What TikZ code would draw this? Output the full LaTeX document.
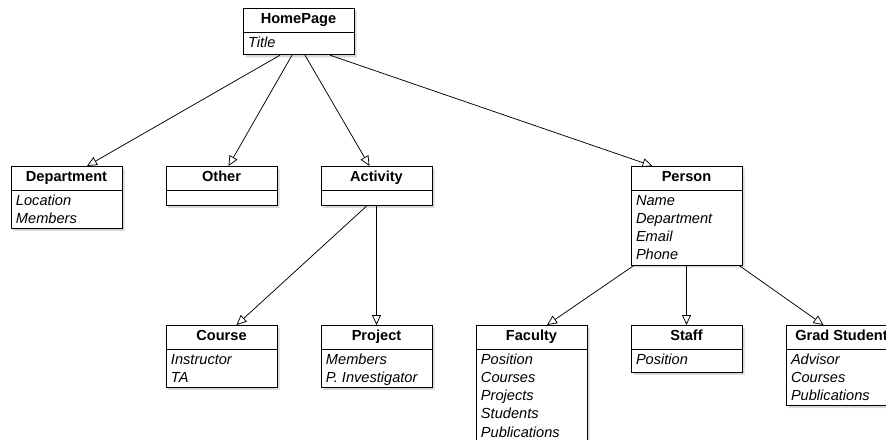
\documentclass[tikz,border=0pt]{standalone}
\usepackage{fontspec}
\setmainfont{Liberation Sans}
\usetikzlibrary{arrows.meta,positioning,shapes.multipart,shadows,matrix}

\newcommand{\classname}[1]{\rule[-8pt]{0pt}{22.5pt}\textbf{#1}}
\newcommand{\classattr}[1]{\rule[-4.3pt]{0pt}{18.3pt}\textit{#1}}
\newcommand{\classend}{\rule[-7pt]{0pt}{0pt}}

\begin{document}
\begin{tikzpicture}[x=1pt,y=-1pt,
  classbox/.style={rectangle split, rectangle split parts=2, rectangle split part align={center,left},
    rectangle split ignore empty parts=false, draw, line width=0.9pt, fill=white,
    minimum width=111pt, inner xsep=5pt, inner ysep=0.25pt, align=left,
    font=\fontsize{14.6}{18.3}\selectfont, anchor=north,
    drop shadow={shadow xshift=2.5pt, shadow yshift=-2.5pt, fill=black!30}},
  edge/.style={-{Triangle[open,length=10pt,width=9pt]}, line width=0.75pt}]
\useasboundingbox (0,0) rectangle (886,439);
\clip (0,0) rectangle (886,439);

\node (home)[classbox] at (298.5,8) {\classname{HomePage}\nodepart{two}\classattr{Title}\classend};

\matrix (classes)[anchor=dept.north, column sep={155pt,between origins}, row sep={159pt,between origins}] at (66.5,166)
{
\node(dept)[classbox]{\classname{Department}\nodepart{two}\classattr{Location}\\\classattr{Members}};  \pgfmatrixnextcell \node(other)[classbox]{\classname{Other}\nodepart{two}\rule{0pt}{13.5pt}};  \pgfmatrixnextcell \node(activity)[classbox]{\classname{Activity}\nodepart{two}\rule{0pt}{13.5pt}};  \pgfmatrixnextcell  \pgfmatrixnextcell \node(person)[classbox]{\classname{Person}\nodepart{two}\classattr{Name}\\\classattr{Department}\\\classattr{Email}\\\classattr{Phone}};  \pgfmatrixnextcell \\
 \pgfmatrixnextcell \node(course)[classbox]{\classname{Course}\nodepart{two}\classattr{Instructor}\\\classattr{TA}};  \pgfmatrixnextcell \node(project)[classbox]{\classname{Project}\nodepart{two}\classattr{Members}\\\classattr{P. Investigator}};  \pgfmatrixnextcell \node(faculty)[classbox]{\classname{Faculty}\nodepart{two}\classattr{Position}\\\classattr{Courses}\\\classattr{Projects}\\\classattr{Students}\\\classattr{Publications}};  \pgfmatrixnextcell \node(staff)[classbox]{\classname{Staff}\nodepart{two}\classattr{Position}\rule[-7.5pt]{0pt}{0pt}};  \pgfmatrixnextcell \node(grad)[classbox]{\classname{Grad Student}\nodepart{two}\classattr{Advisor}\\\classattr{Courses}\\\classattr{Publications}};\\
};

\draw [edge] ([xshift=-18.5pt]home.south) to ([xshift=20.5pt]dept.north);
\draw [edge] ([xshift=-6.5pt]home.south) to ([xshift=7pt]other.north);
\draw [edge] ([xshift=6.5pt]home.south) to ([xshift=-7pt]activity.north);
\draw [edge] ([xshift=31.5pt]home.south) to ([xshift=-34pt]person.north);
\draw [edge] ([xshift=-9.5pt]activity.south) to ([xshift=15pt]course.north);
\draw [edge] (activity.south) to (project.north);
\draw [edge] ([xshift=-52.5pt]person.south) to ([xshift=15.5pt]faculty.north);
\draw [edge] (person.south) to (staff.north);
\draw [edge] ([xshift=52.5pt]person.south) to ([xshift=-18pt]grad.north);
\end{tikzpicture}
\end{document}
